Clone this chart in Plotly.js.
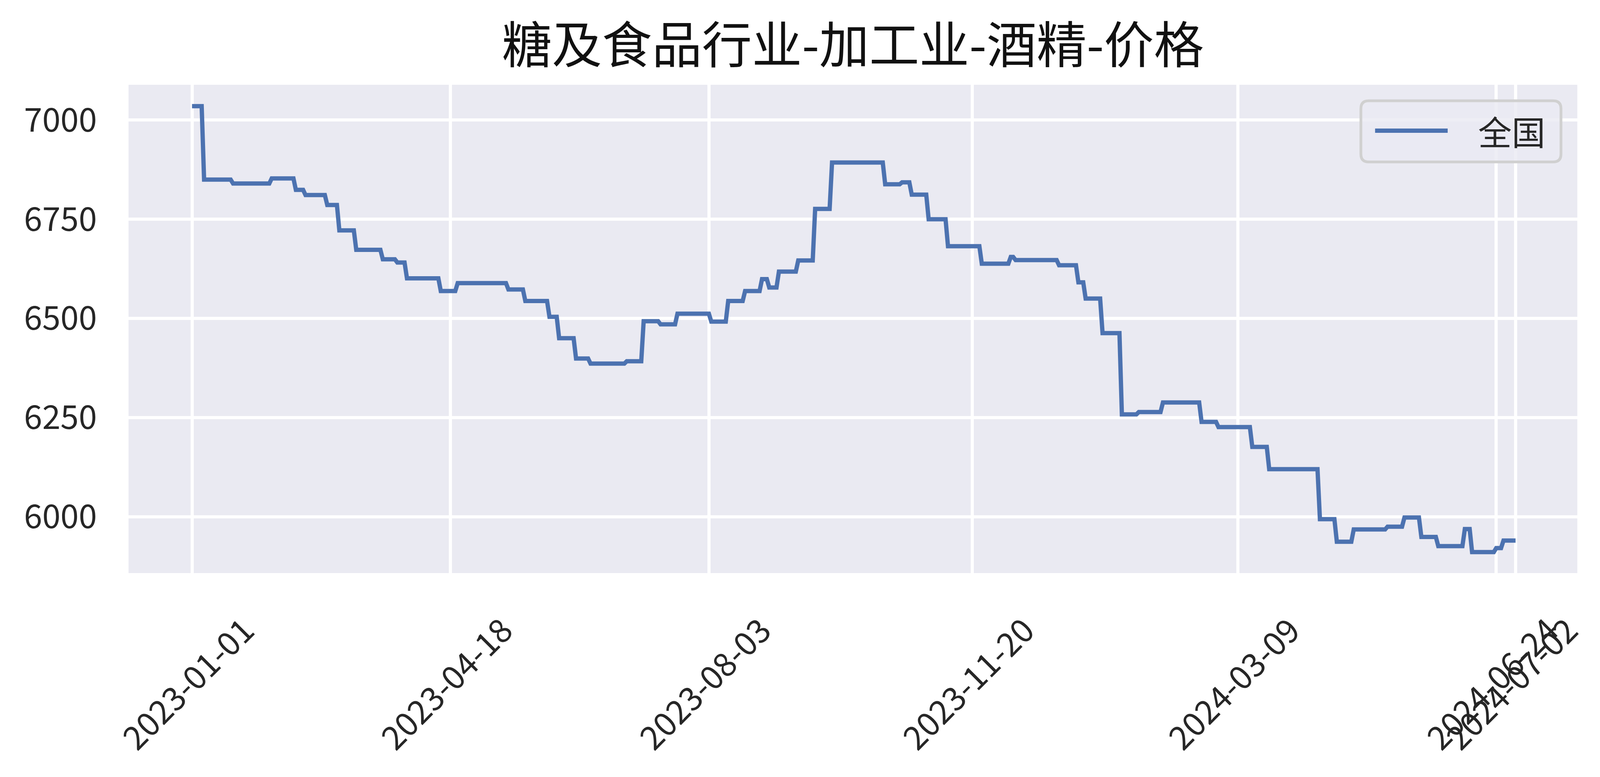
<!DOCTYPE html>
<html>
<head>
<meta charset="utf-8">
<script src="https://cdn.plot.ly/plotly-3.0.1.min.js"></script>
<style>
  html, body { margin: 0; padding: 0; background: #ffffff; }
  #chart { width: 4128px; height: 1989px; }
</style>
</head>
<body>
<div id="chart"></div>
<script>
// price series (one point at each end of a flat step)
const priceDates = [
  '2023-01-01', '2023-01-05', '2023-01-06', '2023-01-17', '2023-01-18', '2023-02-02',
  '2023-02-03', '2023-02-12', '2023-02-13', '2023-02-16', '2023-02-17', '2023-02-25',
  '2023-02-26', '2023-03-02', '2023-03-03', '2023-03-09', '2023-03-10', '2023-03-20',
  '2023-03-21', '2023-03-26', '2023-03-27', '2023-03-30', '2023-03-31', '2023-04-13',
  '2023-04-14', '2023-04-20', '2023-04-21', '2023-05-11', '2023-05-12', '2023-05-18',
  '2023-05-19', '2023-05-28', '2023-05-29', '2023-06-01', '2023-06-02', '2023-06-08',
  '2023-06-09', '2023-06-14', '2023-06-15', '2023-06-29', '2023-06-30', '2023-07-06',
  '2023-07-07', '2023-07-13', '2023-07-14', '2023-07-20', '2023-07-21', '2023-08-03',
  '2023-08-04', '2023-08-10', '2023-08-11', '2023-08-17', '2023-08-18', '2023-08-24',
  '2023-08-25', '2023-08-27', '2023-08-28', '2023-08-31', '2023-09-01', '2023-09-08',
  '2023-09-09', '2023-09-15', '2023-09-16', '2023-09-22', '2023-09-23', '2023-10-14',
  '2023-10-15', '2023-10-21', '2023-10-22', '2023-10-25', '2023-10-26', '2023-11-01',
  '2023-11-02', '2023-11-09', '2023-11-10', '2023-11-23', '2023-11-24', '2023-12-05',
  '2023-12-06', '2023-12-07', '2023-12-08', '2023-12-25', '2023-12-26', '2024-01-02',
  '2024-01-03', '2024-01-05', '2024-01-06', '2024-01-12', '2024-01-13', '2024-01-20',
  '2024-01-21', '2024-01-27', '2024-01-28', '2024-02-06', '2024-02-07', '2024-02-22',
  '2024-02-23', '2024-02-29', '2024-03-01', '2024-03-14', '2024-03-15', '2024-03-21',
  '2024-03-22', '2024-04-11', '2024-04-12', '2024-04-18', '2024-04-19', '2024-04-25',
  '2024-04-26', '2024-05-09', '2024-05-10', '2024-05-16', '2024-05-17', '2024-05-23',
  '2024-05-24', '2024-05-30', '2024-05-31', '2024-06-10', '2024-06-11', '2024-06-13',
  '2024-06-14', '2024-06-23', '2024-06-24', '2024-06-26', '2024-06-27', '2024-07-02'
];

const priceValues = [
  7035, 7035, 6850, 6850, 6840, 6840,
  6853, 6853, 6824, 6824, 6811, 6811,
  6786, 6786, 6722, 6722, 6673, 6673,
  6649, 6649, 6641, 6641, 6601, 6601,
  6569, 6569, 6589, 6589, 6573, 6573,
  6544, 6544, 6504, 6504, 6450, 6450,
  6399, 6399, 6386, 6386, 6392, 6392,
  6493, 6493, 6485, 6485, 6512, 6512,
  6492, 6492, 6544, 6544, 6569, 6569,
  6599, 6599, 6578, 6578, 6618, 6618,
  6646, 6646, 6776, 6776, 6893, 6893,
  6838, 6838, 6843, 6843, 6812, 6812,
  6750, 6750, 6682, 6682, 6638, 6638,
  6655, 6655, 6647, 6647, 6634, 6634,
  6591, 6591, 6550, 6550, 6463, 6463,
  6258, 6258, 6264, 6264, 6288, 6288,
  6239, 6239, 6226, 6226, 6176, 6176,
  6120, 6120, 5994, 5994, 5937, 5937,
  5968, 5968, 5975, 5975, 5998, 5998,
  5949, 5949, 5926, 5926, 5969, 5969,
  5911, 5911, 5921, 5921, 5940, 5940
];

const seriesName = '全国';
const chartTitle = '糖及食品行业-加工业-酒精-价格';

// axis ticks
const xTickDates = ['2023-01-01', '2023-04-18', '2023-08-03', '2023-11-20', '2024-03-09', '2024-06-24', '2024-07-02'];
const xTickLabels = ['2023-01-01', '2023-04-18', '2023-08-03', '2023-11-20', '2024-03-09', '2024-06-24', '2024-07-02'];
const yTickValues = [6000, 6250, 6500, 6750, 7000];

const lineColor = '#4C72B0';
const textColor = '#262626';
const cjkFont = '"Noto Sans CJK SC", "Noto Sans", sans-serif';

// legend box drawn as a rounded rectangle in paper coords
function roundedBox(x0, y0, x1, y1, rx, ry) {
  return 'M' + (x0 + rx) + ',' + y1 +
    ' L' + (x1 - rx) + ',' + y1 +
    ' Q' + x1 + ',' + y1 + ' ' + x1 + ',' + (y1 - ry) +
    ' L' + x1 + ',' + (y0 + ry) +
    ' Q' + x1 + ',' + y0 + ' ' + (x1 - rx) + ',' + y0 +
    ' L' + (x0 + rx) + ',' + y0 +
    ' Q' + x0 + ',' + y0 + ' ' + x0 + ',' + (y0 + ry) +
    ' L' + x0 + ',' + (y1 - ry) +
    ' Q' + x0 + ',' + y1 + ' ' + (x0 + rx) + ',' + y1 + ' Z';
}

let trace = {
  x: priceDates,
  y: priceValues,
  type: 'scatter',
  mode: 'lines',
  name: seriesName,
  line: {color: lineColor, width: 11},
  hoverinfo: 'skip'
};

let layout = {
  width: 4128,
  height: 1989,
  paper_bgcolor: '#ffffff',
  plot_bgcolor: '#EAEAF2',
  margin: {l: 329, r: 90, t: 217, b: 522, pad: 0},
  font: {family: cjkFont, color: textColor, size: 86},
  showlegend: false,
  title: {
    text: chartTitle,
    x: 0.5, xref: 'paper',
    y: 0.941, yref: 'container', yanchor: 'middle',
    font: {family: cjkFont, size: 128, color: '#111111'}
  },
  xaxis: {
    type: 'date',
    range: ['2022-12-05 17:00', '2024-07-27 14:00'],
    tickmode: 'array',
    tickvals: xTickDates,
    ticktext: xTickLabels,
    tickangle: -45,
    ticks: '',
    ticklabelshift: 135,
    ticklabelstandoff: 80,
    tickfont: {family: cjkFont, size: 84, color: textColor},
    showgrid: true,
    gridcolor: '#ffffff',
    gridwidth: 8,
    zeroline: false,
    showline: false
  },
  yaxis: {
    range: [5858, 7089],
    tickmode: 'array',
    tickvals: yTickValues,
    ticks: '',
    ticklabelstandoff: 80,
    tickfont: {family: cjkFont, size: 84, color: textColor},
    showgrid: true,
    gridcolor: '#ffffff',
    gridwidth: 8,
    zeroline: false,
    showline: false
  },
  shapes: [
    {
      type: 'path', xref: 'paper', yref: 'paper', layer: 'above',
      path: roundedBox(0.8506, 0.8420, 0.9887, 0.9672, 0.0054, 0.016),
      fillcolor: 'rgba(234,234,242,0.8)',
      line: {color: '#d0d0d0', width: 7}
    },
    {
      type: 'line', xref: 'paper', yref: 'paper', layer: 'above',
      x0: 0.8604, x1: 0.9105, y0: 0.906, y1: 0.906,
      line: {color: lineColor, width: 11}
    }
  ],
  annotations: [
    {
      text: seriesName, xref: 'paper', yref: 'paper',
      x: 0.9310, y: 0.906, xanchor: 'left', yanchor: 'middle',
      showarrow: false,
      font: {family: cjkFont, size: 86, color: textColor}
    }
  ]
};

let config = {staticPlot: true, displayModeBar: false};

Plotly.newPlot('chart', [trace], layout, config);
</script>
</body>
</html>
